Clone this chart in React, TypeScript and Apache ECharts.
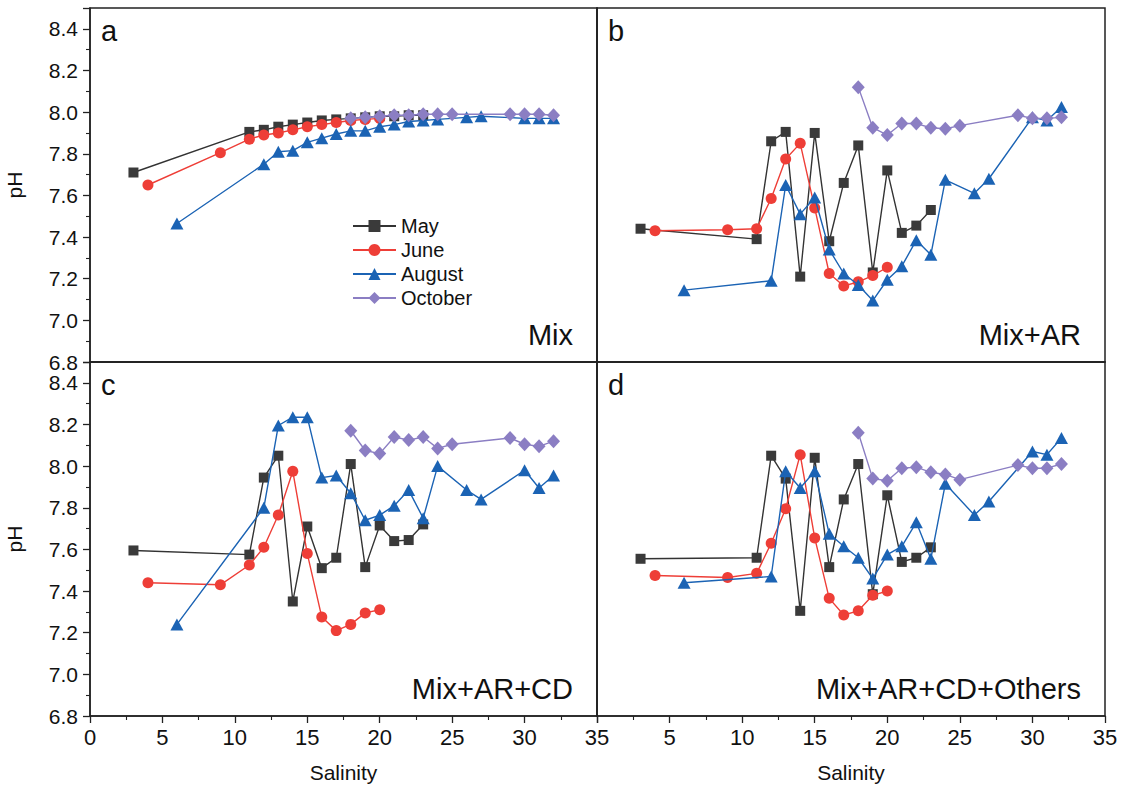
import React, { useEffect, useRef } from "react";
import * as echarts from "echarts";

const salMay = [3, 11, 12, 13, 14, 15, 16, 17, 18, 19, 20, 21, 22, 23];
const salJune = [4, 9, 11, 12, 13, 14, 15, 16, 17, 18, 19, 20];
const salAug = [6, 12, 13, 14, 15, 16, 17, 18, 19, 20, 21, 22, 23, 24, 26, 27, 30, 31, 32];
const salOct = [18, 19, 20, 21, 22, 23, 24, 25, 29, 30, 31, 32];

// Panel a: Mix
const mayA = [7.71, 7.905, 7.915, 7.93, 7.94, 7.95, 7.96, 7.965, 7.97, 7.975, 7.98, 7.98, 7.985, 7.985];
const juneA = [7.65, 7.805, 7.87, 7.89, 7.9, 7.915, 7.93, 7.94, 7.95, 7.96, 7.965, 7.97];
const augA = [7.465, 7.75, 7.81, 7.815, 7.855, 7.875, 7.895, 7.91, 7.91, 7.93, 7.94, 7.955, 7.96, 7.965, 7.975, 7.98, 7.97, 7.97, 7.97];
const octA = [7.97, 7.975, 7.98, 7.985, 7.985, 7.99, 7.99, 7.99, 7.99, 7.99, 7.99, 7.985];

// Panel b: Mix+AR
const mayB = [7.44, 7.39, 7.86, 7.905, 7.21, 7.9, 7.38, 7.66, 7.84, 7.23, 7.72, 7.42, 7.455, 7.53];
const juneB = [7.43, 7.435, 7.44, 7.585, 7.775, 7.85, 7.54, 7.225, 7.165, 7.185, 7.215, 7.255];
const augB = [7.145, 7.19, 7.65, 7.51, 7.59, 7.34, 7.225, 7.17, 7.095, 7.195, 7.26, 7.385, 7.315, 7.675, 7.61, 7.68, 7.975, 7.96, 8.025];
const octB = [8.12, 7.925, 7.89, 7.945, 7.945, 7.925, 7.92, 7.935, 7.985, 7.97, 7.97, 7.975];

// Panel c: Mix+AR+CD
const mayC = [7.595, 7.575, 7.945, 8.05, 7.35, 7.71, 7.51, 7.56, 8.01, 7.515, 7.715, 7.64, 7.645, 7.72];
const juneC = [7.44, 7.43, 7.525, 7.61, 7.765, 7.975, 7.58, 7.275, 7.21, 7.24, 7.295, 7.31];
const augC = [7.24, 7.8, 8.195, 8.235, 8.235, 7.945, 7.955, 7.87, 7.74, 7.765, 7.81, 7.885, 7.75, 8.0, 7.885, 7.84, 7.98, 7.895, 7.955];
const octC = [8.17, 8.075, 8.06, 8.14, 8.125, 8.14, 8.085, 8.105, 8.135, 8.105, 8.095, 8.12];

// Panel d: Mix+AR+CD+Others
const mayD = [7.555, 7.56, 8.05, 7.94, 7.305, 8.04, 7.515, 7.84, 8.01, 7.385, 7.86, 7.54, 7.56, 7.61];
const juneD = [7.475, 7.465, 7.485, 7.63, 7.795, 8.055, 7.655, 7.365, 7.285, 7.305, 7.38, 7.4];
const augD = [7.44, 7.47, 7.975, 7.895, 7.975, 7.675, 7.615, 7.56, 7.46, 7.575, 7.615, 7.73, 7.555, 7.915, 7.765, 7.83, 8.07, 8.055, 8.135];
const octD = [8.16, 7.94, 7.93, 7.99, 7.995, 7.97, 7.96, 7.935, 8.005, 7.99, 7.99, 8.01];

const panelLetters = ["a", "b", "c", "d"];
const panelNames = ["Mix", "Mix+AR", "Mix+AR+CD", "Mix+AR+CD+Others"];
const monthNames = ["May", "June", "August", "October"];

const FONT = "'Liberation Sans', Arial, Helvetica, sans-serif";
const AXIS = "#222";

const monthStyle = [
  { color: "#3a3a3a", line: "#333333", symbol: "rect", size: 10 },
  { color: "#ee3e37", line: "#ee3e37", symbol: "circle", size: 11 },
  { color: "#1b63b4", line: "#1b63b4", symbol: "triangle", size: [13, 12] },
  { color: "#8b7ec3", line: "#8b7ec3", symbol: "diamond", size: [13, 14] },
];

const panelData = [
  [mayA, juneA, augA, octA],
  [mayB, juneB, augB, octB],
  [mayC, juneC, augC, octC],
  [mayD, juneD, augD, octD],
];
const sals = [salMay, salJune, salAug, salOct];

const grids = [
  { left: 90, top: 8, width: 507, height: 354 },
  { left: 597, top: 8, width: 508, height: 354 },
  { left: 90, top: 362, width: 507, height: 354 },
  { left: 597, top: 362, width: 508, height: 354 },
];

export default function App() {
  const ref = useRef<HTMLDivElement>(null);
  useEffect(() => {
    if (!ref.current) return;
    const chart = echarts.init(ref.current, null, { renderer: "svg" });

    const xAxes = grids.map((_, i) => ({
      type: "value",
      gridIndex: i,
      min: 0,
      max: 35,
      interval: 5,
      axisLine: { show: true, onZero: false, lineStyle: { color: AXIS, width: 1.5 } },
      axisTick: { show: i >= 2, length: 7, lineStyle: { color: AXIS, width: 1.3 } },
      minorTick: { show: i >= 2, splitNumber: 2, length: 4, lineStyle: { color: AXIS, width: 1.1 } },
      splitLine: { show: false },
      axisLabel: {
        show: i >= 2,
        fontSize: 22,
        fontFamily: FONT,
        color: "#111",
        margin: 10,
        showMinLabel: i === 2,
      },
      name: i >= 2 ? "Salinity" : "",
      nameLocation: "middle",
      nameGap: 46,
      nameTextStyle: { fontSize: 21, fontFamily: FONT, color: "#111" },
    }));

    const yAxes = grids.map((_, i) => ({
      type: "value",
      gridIndex: i,
      min: 6.8,
      max: 8.5,
      interval: 0.2,
      axisLine: { show: true, onZero: false, lineStyle: { color: AXIS, width: 1.5 } },
      axisTick: { show: i % 2 === 0, length: 7, lineStyle: { color: AXIS, width: 1.3 } },
      minorTick: { show: i % 2 === 0, splitNumber: 2, length: 4, lineStyle: { color: AXIS, width: 1.1 } },
      splitLine: { show: false },
      axisLabel: {
        show: i % 2 === 0,
        fontSize: 21,
        fontFamily: FONT,
        color: "#111",
        margin: 12,
        showMaxLabel: false,
        formatter: (v: number) => v.toFixed(1),
      },
      name: i % 2 === 0 ? "pH" : "",
      nameLocation: "middle",
      nameGap: 65,
      nameTextStyle: { fontSize: 21, fontFamily: FONT, color: "#111" },
    }));

    const series: any[] = [];
    panelData.forEach((months, p) => {
      months.forEach((vals, m) => {
        const st = monthStyle[m];
        series.push({
          type: "line",
          name: monthNames[m],
          xAxisIndex: p,
          yAxisIndex: p,
          data: sals[m].map((s, k) => [s, vals[k]]),
          symbol: st.symbol,
          symbolSize: st.size,
          showAllSymbol: true,
          lineStyle: { color: st.line, width: 1.4 },
          itemStyle: { color: st.color, borderWidth: 0 },
          emphasis: { disabled: true },
          z: 2 + m,
        });
      });
    });

    const graphics: any[] = [];
    grids.forEach((g, i) => {
      graphics.push({
        type: "text",
        x: g.left + 11,
        y: g.top + 23,
        style: {
          text: panelLetters[i],
          font: `29px ${FONT}`,
          fill: "#111",
          verticalAlign: "middle",
          align: "left",
        },
        z: 10,
      });
      graphics.push({
        type: "text",
        x: g.left + g.width - 24,
        y: g.top + g.height - 27,
        style: {
          text: panelNames[i],
          font: `29px ${FONT}`,
          fill: "#111",
          verticalAlign: "middle",
          align: "right",
        },
        z: 10,
      });
    });

    chart.setOption({
      animation: false,
      backgroundColor: "#ffffff",
      grid: grids.map((g) => ({
        ...g,
        show: true,
        borderColor: AXIS,
        borderWidth: 1.5,
        backgroundColor: "transparent",
        containLabel: false,
      })),
      xAxis: xAxes,
      yAxis: yAxes,
      legend: {
        data: monthNames,
        orient: "vertical",
        left: 347,
        top: 211,
        itemWidth: 43,
        itemHeight: 15,
        itemGap: 4,
        selectedMode: false,
        textStyle: { fontSize: 20, fontFamily: FONT, color: "#111" },
      },
      series,
      graphic: graphics,
    });

    return () => chart.dispose();
  }, []);

  return (
    <div
      ref={ref}
      style={{ position: "fixed", left: 0, top: 0, width: 1122, height: 793, background: "#fff" }}
    />
  );
}
